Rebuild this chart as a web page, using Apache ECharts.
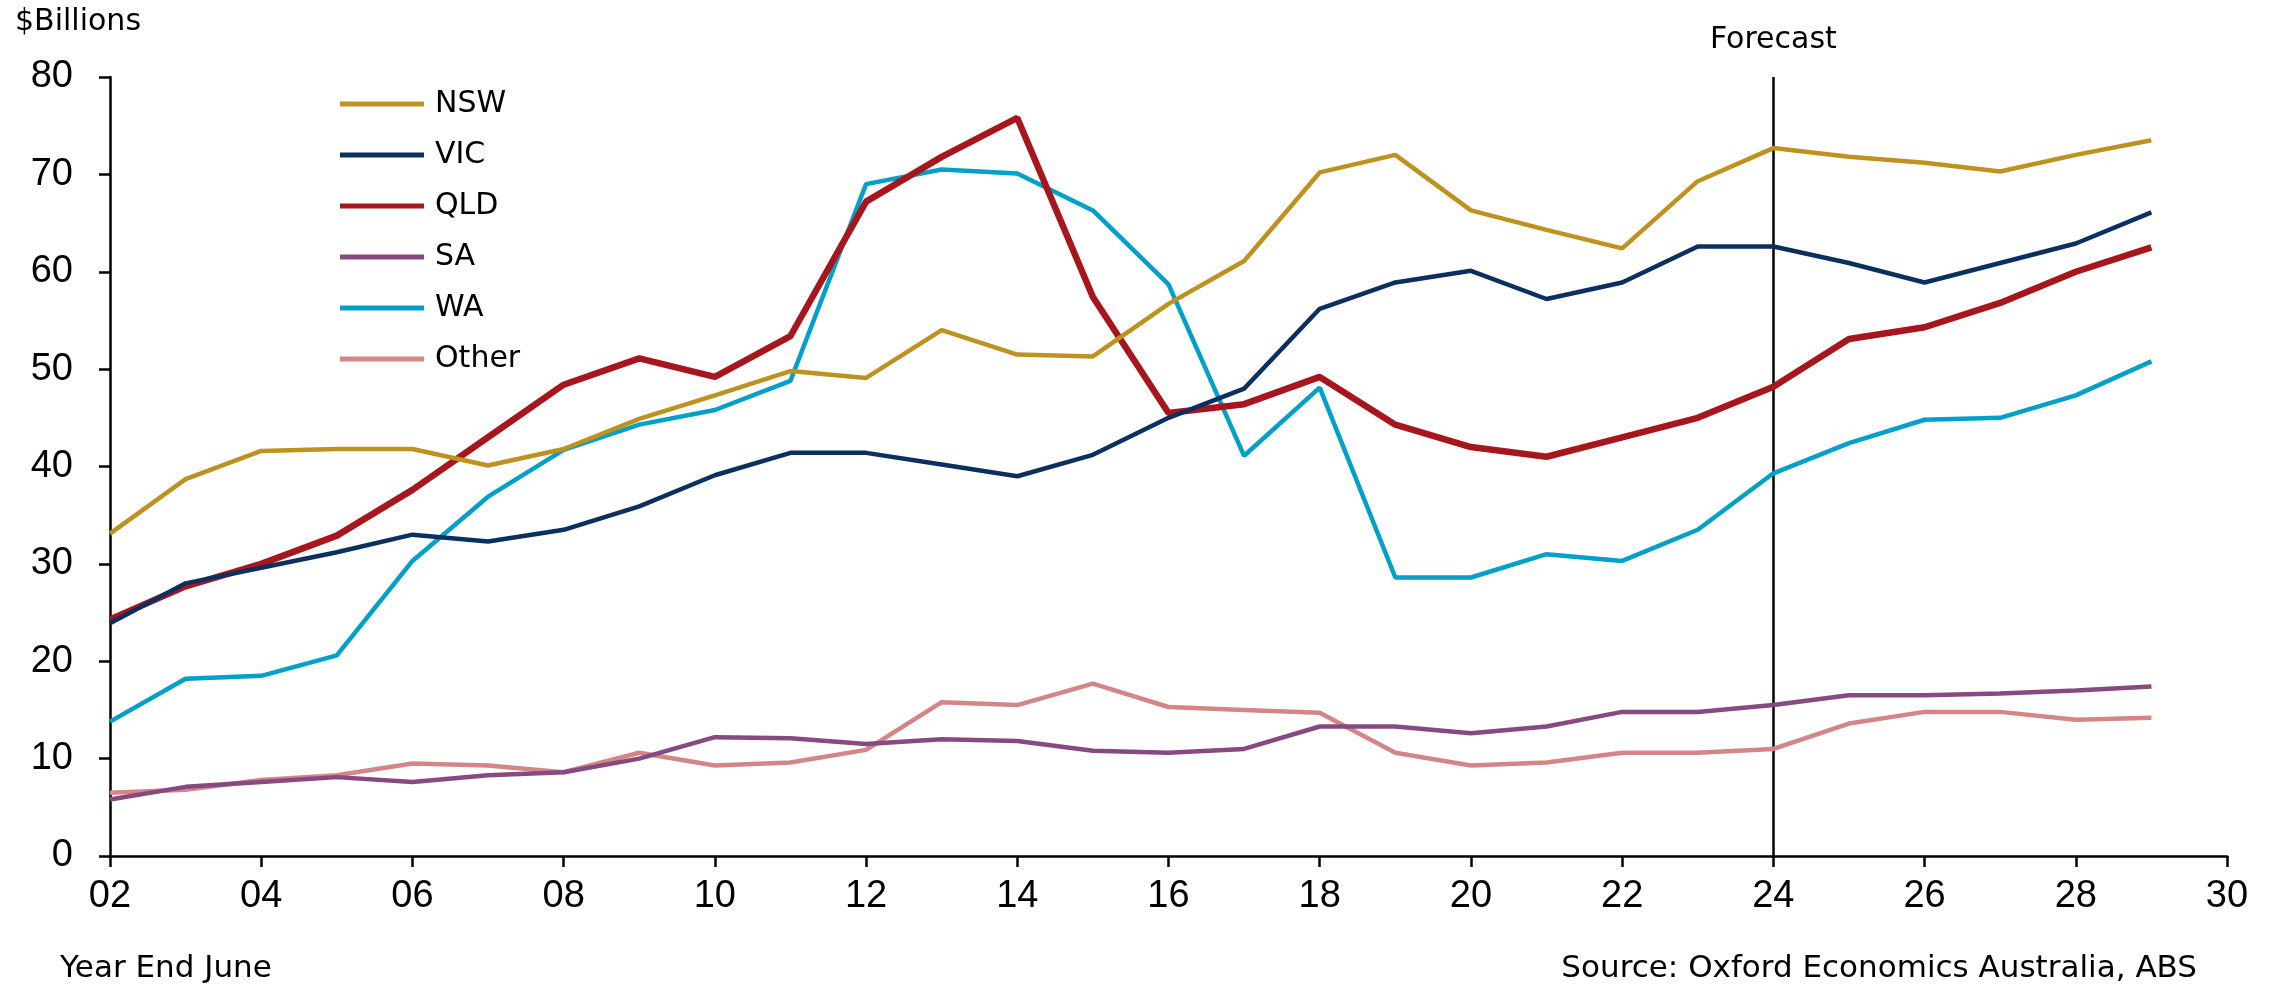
<!DOCTYPE html>
<html>
<head>
<meta charset="utf-8">
<script src="https://cdn.jsdelivr.net/npm/echarts@6/dist/echarts.min.js"></script>
<style>
  html, body { margin: 0; padding: 0; background: #fff; }
  #main { width: 2284px; height: 988px; }
</style>
</head>
<body>
<div id="main"></div>
<script>
// years 2002 .. 2029 (year end June)
const years = [2002, 2003, 2004, 2005, 2006, 2007, 2008, 2009, 2010, 2011, 2012, 2013, 2014, 2015,
               2016, 2017, 2018, 2019, 2020, 2021, 2022, 2023, 2024, 2025, 2026, 2027, 2028, 2029];

const nsw   = [33.1, 38.7, 41.6, 41.8, 41.8, 40.1, 41.8, 44.9, 47.3, 49.8, 49.1, 54.0, 51.5, 51.3,
               56.7, 61.1, 70.2, 72.0, 66.3, 64.3, 62.4, 69.3, 72.7, 71.8, 71.2, 70.3, 72.0, 73.5];
const vic   = [23.9, 28.0, 29.6, 31.2, 33.0, 32.3, 33.5, 35.9, 39.1, 41.4, 41.4, 40.2, 39.0, 41.2,
               45.0, 48.0, 56.2, 58.9, 60.1, 57.2, 58.9, 62.6, 62.6, 60.9, 58.9, 60.9, 62.9, 66.1];
const qld   = [24.3, 27.7, 30.0, 32.9, 37.6, 43.0, 48.4, 51.1, 49.2, 53.4, 67.2, 71.8, 75.8, 57.4,
               45.5, 46.4, 49.2, 44.3, 42.0, 41.0, 43.0, 45.0, 48.2, 53.1, 54.3, 56.8, 60.0, 62.5];
const sa    = [5.8, 7.1, 7.6, 8.1, 7.6, 8.3, 8.6, 10.0, 12.2, 12.1, 11.5, 12.0, 11.8, 10.8,
               10.6, 11.0, 13.3, 13.3, 12.6, 13.3, 14.8, 14.8, 15.5, 16.5, 16.5, 16.7, 17.0, 17.4];
const wa    = [13.8, 18.2, 18.5, 20.6, 30.3, 36.9, 41.7, 44.3, 45.8, 48.8, 69.0, 70.5, 70.1, 66.3,
               58.7, 41.1, 48.1, 28.6, 28.6, 31.0, 30.3, 33.5, 39.3, 42.4, 44.8, 45.0, 47.3, 50.8];
const other = [6.5, 6.8, 7.8, 8.3, 9.5, 9.3, 8.6, 10.6, 9.3, 9.6, 10.9, 15.8, 15.5, 17.7,
               15.3, 15.0, 14.7, 10.6, 9.3, 9.6, 10.6, 10.6, 11.0, 13.6, 14.8, 14.8, 14.0, 14.2];

const forecastYear = 2024;

const seriesDefs = [
    { name: 'NSW',   data: nsw,   color: '#BF921F', width: 4.5 },
    { name: 'VIC',   data: vic,   color: '#0B2F5E', width: 4.5 },
    { name: 'QLD',   data: qld,   color: '#A8161D', width: 6.5 },
    { name: 'SA',    data: sa,    color: '#874A80', width: 4.5 },
    { name: 'WA',    data: wa,    color: '#00A0C8', width: 4.5 },
    { name: 'Other', data: other, color: '#D48686', width: 4.5 }
];

const textFont = 'DejaVu Sans';
const numFont = 'Liberation Sans';

function buildSeries() {
    return seriesDefs.map(function (s, i) {
        const item = {
            name: s.name,
            type: 'line',
            symbol: 'none',
            z: 10 - i,
            data: years.map(function (y, k) { return [y, s.data[k]]; }),
            lineStyle: { color: s.color, width: s.width },
            itemStyle: { color: s.color }
        };
        if (i === 0) {
            // vertical marker where the forecast starts
            item.markLine = {
                silent: true,
                symbol: 'none',
                lineStyle: { color: '#000', width: 2.5, type: 'solid' },
                label: {
                    show: true,
                    position: 'end',
                    formatter: 'Forecast',
                    fontFamily: textFont,
                    fontSize: 30,
                    color: '#000',
                    distance: 22
                },
                data: [[{ coord: [forecastYear, 0] }, { coord: [forecastYear, 80] }]]
            };
        }
        return item;
    });
}

const chart = echarts.init(document.getElementById('main'));

const option = {
    animation: false,
    backgroundColor: '#fff',
    grid: { left: 110, right: 57, top: 77, bottom: 132 },
    legend: {
        orient: 'vertical',
        left: 335,
        top: 83,
        itemWidth: 84,
        itemHeight: 5,
        itemGap: 19,
        data: seriesDefs.map(function (s) { return { name: s.name, icon: 'rect' }; }),
        textStyle: {
            fontFamily: textFont,
            fontSize: 30,
            lineHeight: 32,
            color: '#000',
            padding: [0, 0, 0, 6]
        }
    },
    xAxis: {
        type: 'value',
        min: 2002,
        max: 2030,
        interval: 2,
        splitLine: { show: false },
        axisLine: { show: true, onZero: false, lineStyle: { color: '#000', width: 2.5 } },
        axisTick: { show: true, length: 11, lineStyle: { color: '#000', width: 2.5 } },
        axisLabel: {
            margin: 22,
            fontFamily: numFont,
            fontSize: 38,
            color: '#000',
            formatter: function (v) { return String(v).slice(2); }
        }
    },
    yAxis: {
        type: 'value',
        min: 0,
        max: 80,
        interval: 10,
        splitLine: { show: false },
        axisLine: { show: true, lineStyle: { color: '#000', width: 2.5 } },
        axisTick: { show: true, length: 11, lineStyle: { color: '#000', width: 2.5 } },
        axisLabel: {
            margin: 37,
            fontFamily: numFont,
            fontSize: 38,
            color: '#000'
        }
    },
    graphic: [
        {
            type: 'text', left: 15, top: 7,
            style: { text: '$Billions', font: '30px "DejaVu Sans"', fill: '#000' }
        },
        {
            type: 'text', left: 60, top: 953,
            style: { text: 'Year End June', font: '31px "DejaVu Sans"', fill: '#000' }
        },
        {
            type: 'text', right: 87, top: 953,
            style: { text: 'Source: Oxford Economics Australia, ABS', font: '31px "DejaVu Sans"', fill: '#000' }
        }
    ],
    series: buildSeries()
};

chart.setOption(option);
</script>
</body>
</html>
